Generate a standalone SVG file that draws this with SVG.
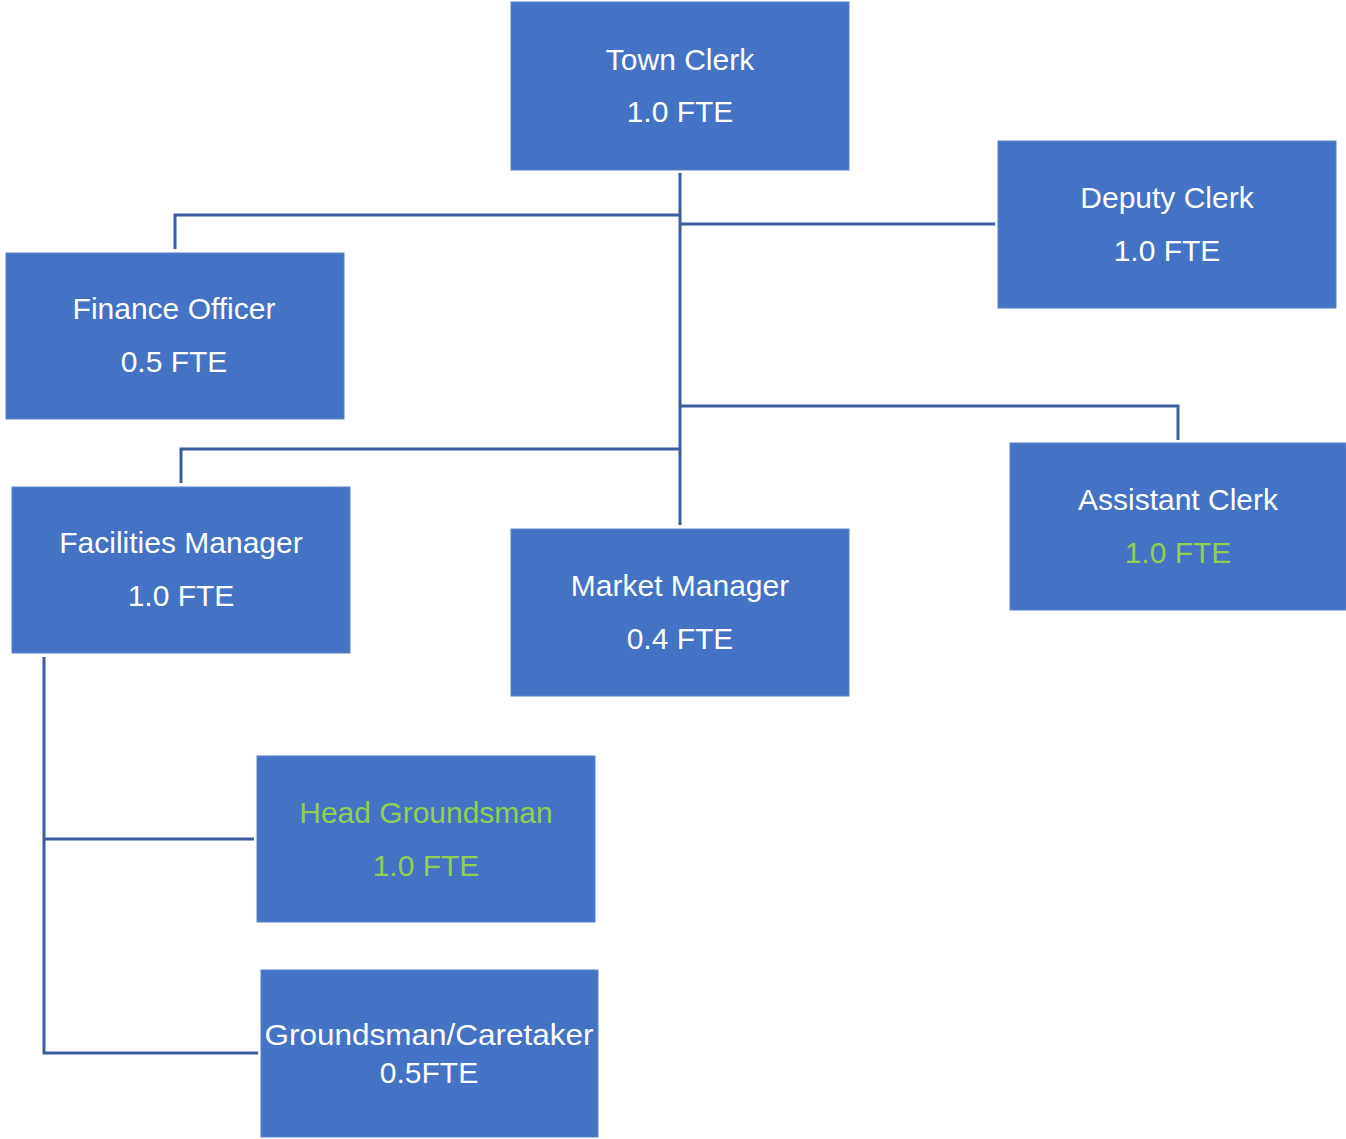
<svg xmlns="http://www.w3.org/2000/svg" width="1346" height="1139" viewBox="0 0 1346 1139">
<style>
.box{fill:#4472C4;stroke:#5B82CC;stroke-width:1}
.t{font-family:"Liberation Sans",Arial,sans-serif;font-size:30px;fill:#FFFFFF;text-anchor:middle}
.g{fill:#92D050}
.c{fill:none;stroke:#3A5DA3;stroke-width:3}
</style>
<rect width="1346" height="1139" fill="#FFFFFF"/>
<g id="connectors">
<path class="c" d="M680 173V525"/>
<path class="c" d="M680 215H175V249"/>
<path class="c" d="M680 224H995"/>
<path class="c" d="M680 406H1178V440"/>
<path class="c" d="M680 449H181V483"/>
<path class="c" d="M44 657V1053H258"/>
<path class="c" d="M44 839H254"/>
</g>
<g id="town-clerk">
<rect class="box" x="511" y="2" width="338" height="168"/>
<text class="t" x="680" y="70">Town Clerk</text>
<text class="t" x="680" y="122">1.0 FTE</text>
</g>
<g id="deputy-clerk">
<rect class="box" x="998" y="141" width="338" height="167"/>
<text class="t" x="1167" y="208">Deputy Clerk</text>
<text class="t" x="1167" y="261">1.0 FTE</text>
</g>
<g id="finance-officer">
<rect class="box" x="6" y="253" width="338" height="166"/>
<text class="t" x="174" y="319">Finance Officer</text>
<text class="t" x="174" y="372">0.5 FTE</text>
</g>
<g id="facilities-manager">
<rect class="box" x="12" y="487" width="338" height="166"/>
<text class="t" x="181" y="553">Facilities Manager</text>
<text class="t" x="181" y="606">1.0 FTE</text>
</g>
<g id="market-manager">
<rect class="box" x="511" y="529" width="338" height="167"/>
<text class="t" x="680" y="596">Market Manager</text>
<text class="t" x="680" y="649">0.4 FTE</text>
</g>
<g id="assistant-clerk">
<rect class="box" x="1010" y="443" width="336" height="167"/>
<text class="t" x="1178" y="510">Assistant Clerk</text>
<text class="t g" x="1178" y="563">1.0 FTE</text>
</g>
<g id="head-groundsman">
<rect class="box" x="257" y="756" width="338" height="166"/>
<text class="t g" x="426" y="823">Head Groundsman</text>
<text class="t g" x="426" y="876">1.0 FTE</text>
</g>
<g id="groundsman-caretaker">
<rect class="box" x="261" y="970" width="337" height="167"/>
<text class="t" x="429" y="1045" textLength="329" lengthAdjust="spacingAndGlyphs">Groundsman/Caretaker</text>
<text class="t" x="429" y="1083">0.5FTE</text>
</g>
</svg>
